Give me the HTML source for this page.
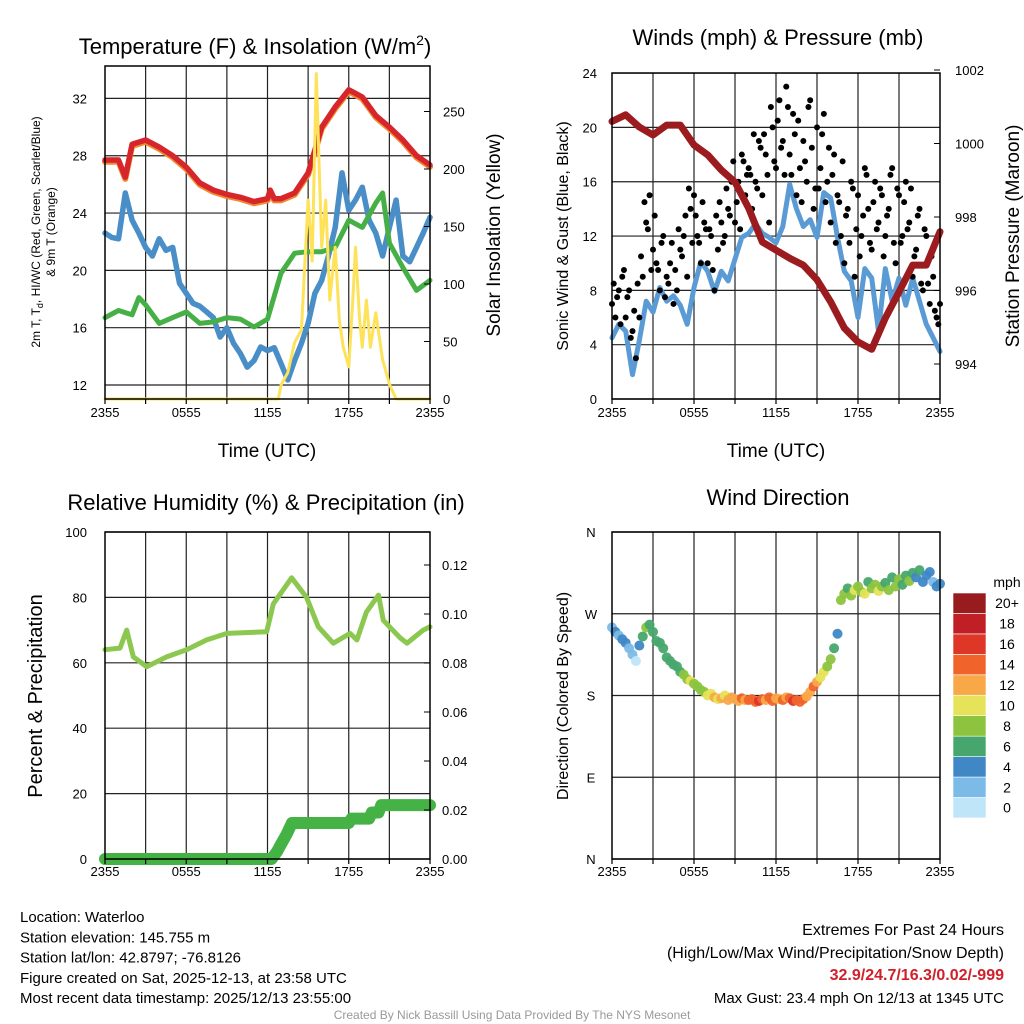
<!DOCTYPE html>
<html><head><meta charset="utf-8"><style>
html,body{margin:0;padding:0;background:#fff}
svg{display:block;font-family:"Liberation Sans",sans-serif}
</style></head><body>
<svg id="chart" width="1024" height="1024" viewBox="0 0 1024 1024"></svg>
<script>
// ---------- DATA ----------
const hours = [0,1,2,3,4,5,6,7,8,9,10,11,12,13,14,15,16,17,18,19,20,21,22,23,24];
const tempTimes = [0,1,1.5,2,3,4,5,6,7,8,9,10,11,12,12.2,12.5,13,14,15,16,17,18,19,20,21,22,23,24];
const tempVals = [27.7,27.7,26.5,28.8,29.1,28.6,28.0,27.2,26.1,25.6,25.3,25.1,24.8,25.0,25.6,25.0,25.0,25.4,26.8,30.0,31.4,32.6,32.1,30.8,30.0,29.1,28.0,27.35];
const dewTimes = [0,1,2,2.5,3,4,5,6,7,8,9,10,11,12,13,14,15,16,17,18,19,20,20.5,21,22,23,24];
const dewVals = [16.7,17.2,16.9,18.1,17.6,16.3,16.7,17.1,16.3,16.4,16.7,16.6,16.05,16.6,19.8,21.2,21.3,21.3,21.6,23.5,23.0,24.7,25.4,21.9,20.2,18.6,19.3];
const wcVals = [22.6,22.3,22.2,25.4,23.5,22.6,21.6,21.0,22.2,21.4,21.6,19.1,18.4,17.7,17.5,17.1,16.7,15.35,16.0,14.9,14.2,13.25,13.7,14.65,14.4,14.6,13.5,12.35,13.7,14.9,16.3,18.4,19.3,21.0,23.0,26.8,24.2,24.9,25.8,23.5,22.6,21.0,23.0,24.9,21.0,20.6,21.6,22.6,23.7];
const solarTimes = [0,12.8,13,13.5,14,14.5,15,15.3,15.6,16,16.3,16.6,17,17.3,17.6,18,18.3,18.5,18.8,19,19.3,19.6,20,20.5,21,21.5,24];
const solarVals = [0,0,12,23,49,60,173,120,283,132,173,86,132,69,45,28,86,132,69,45,86,45,75,34,13,0,0];
const windVals = [4.5,5.5,5.0,1.8,4.3,7.2,6.4,8.2,7.2,7.6,6.9,5.5,8.2,10.1,9.4,7.9,9.4,8.7,10.3,11.9,12.2,12.9,12.2,11.9,11.5,12.7,15.8,14.0,12.7,13.2,11.9,15.2,14.8,11.9,9.4,8.7,6.0,9.6,8.9,5.0,9.6,7.2,8.9,6.9,8.9,7.2,5.5,4.5,3.5];
const gustA = [7,6,8,9, 6,8,5,3, 6,9,13,15, 11,10,8,12, 9,10,7,8, 11,12,9,14, 15,12,10,13, 10,12,8,11, 13,12,14,16, 13,16,18,15, 17,14,16,19, 15,18,13,20, 17,22,19,23, 18,21,15,17, 19,16,22,14, 20,17,21,16, 13,18,15,12, 10,14,16,9, 15,12,17,14, 11,16,13,15, 12,14,17,10, 15,12,16,13, 9,11,14,8, 12,7,9,6, 7];
const gustB = [8.5,7.5,5.5,9.5, 7.5,4.5,6.5,8.5, 10.5,14.5,12.5,9.5, 13.5,9.5,11.5,7.5, 8.5,11.5,9.5,12.5, 10.5,13.5,15.5,11.5, 13.5,11.5,14.5,12.5, 12.5,9.5,13.5,14.5, 11.5,15.5,13.5,17.5, 14.5,12.5,17.5,16.5, 16.5,19.5,15.5,18.5, 19.5,16.5,21.5,17.5, 20.5,18.5,16.5,21.5, 16.5,19.5,20.5,14.5, 17.5,21.5,18.5,15.5, 15.5,19.5,14.5,18.5, 16.5,11.5,14.5,17.5, 13.5,11.5,15.5,12.5, 10.5,13.5,16.5,11.5, 14.5,12.5,15.5,10.5, 13.5,16.5,11.5,15.5, 11.5,14.5,12.5,15.5, 10.5,13.5,8.5,12.5, 8.5,10.5,6.5,5.5];
const pressVals = [1000.6,1000.78,1000.45,1000.23,1000.5,1000.5,999.96,999.69,999.28,998.95,998.24,997.32,997.1,996.88,996.69,996.29,995.69,994.98,994.6,994.4,995.25,995.96,996.69,996.69,997.6];
const rhTimes = [0,1.11,1.6,2.09,3.08,4.55,6.03,7.51,9.0,11.94,12.43,13.78,14.89,15.75,16.86,18.1,18.6,19.3,20.2,20.55,21.8,22.3,23.5,24];
const rhVals = [64,64.5,70,61.8,58.8,61.8,64,67,69,69.5,78,86,80,71,66,69,67,75.5,80.7,73,67.6,66,70,71];
const precipTimes = [0,12.3,12.7,13,13.4,13.8,18,18.2,19.5,19.7,20.2,20.4,24];
const precipVals = [0,0,0.003,0.006,0.010,0.0147,0.0147,0.0165,0.0165,0.019,0.019,0.022,0.022];
const dirVals = [255,250,246,242, 238,232,225,218, 235,245,255,258, 250,240,238,232, 222,218,214,212, 206,203,198,196, 193,190,186,184, 180,182,178,176, 177,180,175,178, 176,174,177,175, 175,176,173,174, 176,175,178,174, 177,176,175,178, 177,174,175,173, 176,179,184,190, 195,200,206,212, 220,232,248,285, 292,298,290,296, 300,294,292,305, 298,302,295,300, 304,296,310,300, 308,302,312,306, 315,310,318,305, 312,316,305,300, 303];
const dirSpeed = [3,4,3,4, 4,3,2,1, 5,7,8,7, 6,7,6,6, 6,7,6,6, 7,8,9,10, 9,8,8,9, 10,11,12,11, 12,11,13,12, 13,12,14,13, 14,15,14,16, 14,13,15,14, 12,13,14,13, 15,16,14,15, 14,13,12,14, 12,11,10,9, 8,7,4,9, 8,7,9,10, 9,8,10,7, 8,9,10,8, 7,9,6,8, 8,6,7,9, 7,5,6,4, 5,4,3,4, 4];
const xTickLabels = ["2355","0555","1155","1755","2355"];
const tempTicks = [12,16,20,24,28,32];
const solarTicks = [0,50,100,150,200,250];
const windTicks = [0,4,8,12,16,20,24];
const pressTicks = [994,996,998,1000,1002];
const rhTicks = [0,20,40,60,80,100];
const precipTicks = [0,0.02,0.04,0.06,0.08,0.10,0.12];
const dirTicks = ["N","E","S","W","N"];
const cbLabels = ["0","2","4","6","8","10","12","14","16","18","20+"];
const cbColors = ["#bfe5f8","#7cbbe7","#3f88c5","#47a66d","#8cc43f","#e6e35a","#f9a848","#f0642c","#de3627","#c01f26","#981b1e"];

// ---------- HELPERS ----------
const NS="http://www.w3.org/2000/svg";
const svg=document.getElementById('chart');
function el(tag,attrs,parent){const e=document.createElementNS(NS,tag);for(const k in attrs)e.setAttribute(k,attrs[k]);(parent||svg).appendChild(e);return e;}
function txt(s,x,y,size,anchor,parent,extra){const t=el('text',Object.assign({x:x,y:y,'font-size':size,'text-anchor':anchor||'middle',fill:'#000'},extra||{}),parent);t.textContent=s;return t;}
function evenTimes(n){const a=[];for(let i=0;i<n;i++)a.push(i*24/(n-1));return a;}
function poly(times,vals,fx,fy,stroke,w,parent){let d='';for(let i=0;i<vals.length;i++){d+=(i?'L':'M')+fx(times[i]).toFixed(1)+','+fy(vals[i]).toFixed(1);}return el('path',{d:d,fill:'none',stroke:stroke,'stroke-width':w,'stroke-linejoin':'round','stroke-linecap':'round'},parent);}

function frame(g,x0,x1,y0,y1,hLines){
  for(let i=1;i<8;i++){const x=x0+(x1-x0)*i/8;el('line',{x1:x,x2:x,y1:y0,y2:y1,stroke:'#222','stroke-width':1.2},g);}
  hLines.forEach(y=>el('line',{x1:x0,x2:x1,y1:y,y2:y,stroke:'#222','stroke-width':1.2},g));
}
function border(g,x0,x1,y0,y1){el('rect',{x:x0,y:y0,width:x1-x0,height:y1-y0,fill:'none',stroke:'#000','stroke-width':1.5},g);
  for(let i=0;i<=8;i++){const x=x0+(x1-x0)*i/8;el('line',{x1:x,x2:x,y1:y1,y2:y1+5,stroke:'#000','stroke-width':1.2},g);}
}
function xLabels(g,x0,x1,y){xTickLabels.forEach((s,i)=>{const t=txt(s,x0+(x1-x0)*i/4,y,13,'middle',g);});}

// ---------- PANEL 1 ----------
(function(){
  const g=el('g',{});
  const x0=105,x1=430,y0=66,y1=399;
  const fx=t=>x0+t/24*(x1-x0), fT=v=>385-(v-12)*14.33, fS=v=>399-v*1.15;
  frame(g,x0,x1,y0,y1,tempTicks.map(fT));
  const o=poly(tempTimes,tempVals.map(v=>v-0.12),fx,fT,'#f08a30',6,g);
  const r=poly(tempTimes,tempVals,fx,fT,'#d7262b',5.5,g);
  const b=poly(evenTimes(wcVals.length),wcVals,fx,fT,'#4a8ec8',5.5,g);
  const gr=poly(dewTimes,dewVals,fx,fT,'#46b046',5,g);
  const y=poly(solarTimes,solarVals,fx,fS,'#fde25a',3,g);
  border(g,x0,x1,y0,y1);
  tempTicks.forEach(v=>{const t=txt(String(v),87,fT(v)+5,13,'end',g);});
  solarTicks.forEach(v=>{el('line',{x1:x1,x2:x1-6,y1:fS(v),y2:fS(v),stroke:'#000'},g);const t=txt(String(v),443,fS(v)+5,13,'start',g);});
  xLabels(g,x0,x1,417);
  const ti=txt('Temperature (F) & Insolation (W/m',255,54,22,'middle',g);
  const sup=el('tspan',{'font-size':14,dy:-9},ti);sup.textContent='2';const cl=el('tspan',{dy:9},ti);cl.textContent=')';
  const xl=txt('Time (UTC)',267,457,19,'middle',g);
  const l1=txt('2m T, T',0,0,12,'middle',g,{transform:'translate(40,232) rotate(-90)'});
  const s1=el('tspan',{'font-size':9,dy:3},l1);s1.textContent='d';const s2=el('tspan',{dy:-3},l1);s2.textContent=', HI/WC (Red, Green, Scarlet/Blue)';
  const l2=txt('& 9m T (Orange)',0,0,12,'middle',g,{transform:'translate(55,232) rotate(-90)'});
  const r1=txt('Solar Insolation (Yellow)',0,0,19,'middle',g,{transform:'translate(500,235) rotate(-90)'});
})();

// ---------- PANEL 2 ----------
(function(){
  const g=el('g',{});
  const x0=612,x1=940,y0=73,y1=399;
  const fx=t=>x0+t/24*(x1-x0), fW=v=>399-v*13.58, fP=v=>364-(v-994)*36.75;
  frame(g,x0,x1,y0,y1,windTicks.map(fW));
  const w=poly(evenTimes(windVals.length),windVals,fx,fW,'#5a9bd5',5,g);
  const ta=evenTimes(gustA.length);
  gustA.forEach((v,i)=>{const c=el('circle',{cx:fx(ta[i]),cy:fW(v),r:3,fill:'#000'},g);});
  gustB.forEach((v,i)=>{const c=el('circle',{cx:fx(i*0.25+0.125),cy:fW(v),r:3,fill:'#000'},g);});
  const p=poly(hours,pressVals,fx,fP,'#9b1b1e',7,g);
  border(g,x0,x1,y0,y1);
  windTicks.forEach(v=>{const t=txt(String(v),597,fW(v)+5,13,'end',g);});
  pressTicks.forEach(v=>{el('line',{x1:x1,x2:x1-6,y1:fP(v),y2:fP(v),stroke:'#000'},g);const t=txt(String(v),955,fP(v)+5,13,'start',g);});
  xLabels(g,x0,x1,417);
  const ti=txt('Winds (mph) & Pressure (mb)',778,45,22,'middle',g);
  const xl=txt('Time (UTC)',776,457,19,'middle',g);
  const l=txt('Sonic Wind & Gust (Blue, Black)',0,0,16,'middle',g,{transform:'translate(568,236) rotate(-90)'});
  const r=txt('Station Pressure (Maroon)',0,0,19,'middle',g,{transform:'translate(1019,236) rotate(-90)'});
})();

// ---------- PANEL 3 ----------
(function(){
  const g=el('g',{});
  const x0=105,x1=430,y0=532,y1=859;
  const fx=t=>x0+t/24*(x1-x0), fR=v=>859-v*3.27, fPr=v=>859-v*2450;
  frame(g,x0,x1,y0,y1,rhTicks.map(fR));
  const pr=poly(precipTimes,precipVals,fx,fPr,'#44b244',12,g);
  const rh=poly(rhTimes,rhVals,fx,fR,'#8cc850',5,g);
  border(g,x0,x1,y0,y1);
  rhTicks.forEach(v=>{const t=txt(String(v),87,fR(v)+5,13,'end',g);});
  precipTicks.forEach(v=>{el('line',{x1:x1,x2:x1-6,y1:fPr(v),y2:fPr(v),stroke:'#000'},g);const t=txt(v.toFixed(2),442,fPr(v)+5,13,'start',g);});
  xLabels(g,x0,x1,876);
  const ti=txt('Relative Humidity (%) & Precipitation (in)',266,510,22,'middle',g);
  const l=txt('Percent & Precipitation',0,0,20,'middle',g,{transform:'translate(42,696) rotate(-90)'});
})();

// ---------- PANEL 4 ----------
(function(){
  const g=el('g',{});
  const x0=612,x1=940,y0=532,y1=859;
  const fx=t=>x0+t/24*(x1-x0), fD=v=>859-v*0.9083;
  frame(g,x0,x1,y0,y1,[0,90,180,270,360].map(fD));
  const td=evenTimes(dirVals.length);
  dirVals.forEach((v,i)=>{const ci=Math.max(0,Math.min(10,Math.floor(dirSpeed[i]/2)));const c=el('circle',{cx:fx(td[i]),cy:fD(v),r:5,fill:cbColors[ci],'fill-opacity':0.95},g);});
  border(g,x0,x1,y0,y1);
  dirTicks.forEach((s,i)=>{const t=txt(s,591,fD(i*90)+5,13,'middle',g);});
  xLabels(g,x0,x1,876);
  const ti=txt('Wind Direction',778,505,22,'middle',g);
  const l=txt('Direction (Colored By Speed)',0,0,16,'middle',g,{transform:'translate(568,696) rotate(-90)'});
  const cb=el('g',{},g);
  const cy0=593,bh=20.45;
  cbColors.forEach((c,i)=>{const y=cy0+(10-i)*bh;const r=el('rect',{x:953,y:y,width:33,height:bh,fill:c,stroke:'#fff','stroke-width':0.6},cb);
    const t=txt(cbLabels[i],1007,y+bh/2+5,14,'middle',cb);});
  const m=txt('mph',1007,587,14,'middle',cb);
})();

// ---------- FOOTER TEXT ----------
(function(){
  const g=el('g',{});
  const left=["Location: Waterloo","Station elevation: 145.755 m","Station lat/lon: 42.8797; -76.8126","Figure created on Sat, 2025-12-13, at 23:58 UTC","Most recent data timestamp: 2025/12/13 23:55:00"];
  left.forEach((s,i)=>{const t=txt(s,20,922+i*20.3,15,'start',g);});
  const e1=txt('Extremes For Past 24 Hours',1004,935,16,'end',g);
  const e2=txt('(High/Low/Max Wind/Precipitation/Snow Depth)',1004,958,16,'end',g);
  const e3=txt('32.9/24.7/16.3/0.02/-999',1004,980,16,'end',g,{fill:'#d0202a','font-weight':'bold'});
  const e4=txt('Max Gust: 23.4 mph On 12/13 at 1345 UTC',1004,1003,15,'end',g);
  const f=txt('Created By Nick Bassill Using Data Provided By The NYS Mesonet',512,1019,12,'middle',g,{fill:'#999'});
})();
</script>
</body></html>
